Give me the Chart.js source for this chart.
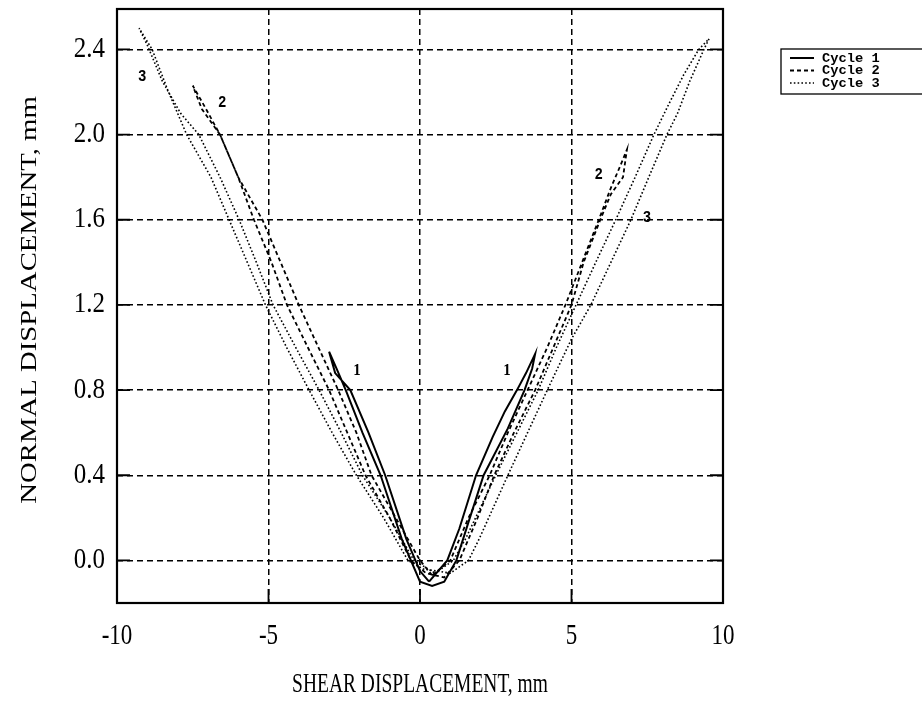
<!DOCTYPE html>
<html>
<head>
    <title>Shear vs normal displacement</title>
    <script src="https://cdn.jsdelivr.net/npm/chart.js"></script>
    <style>
        html, body { margin: 0; padding: 0; background: #fff; }
        #chart-container { width: 922px; height: 702px; }
    </style>
</head>
<body>
    <div id="chart-container">
        <canvas id="dispChart" width="922" height="702"></canvas>
    </div>

    <script>
        // Cycle 1 (solid)
        const cycle1X = [0.3, 0.9, 1.3, 1.85, 2.4, 2.8, 3.2, 3.5, 3.8,
            3.7, 3.45, 2.9, 2.1, 1.6, 1.2, 0.8, 0.4,
            0.0, -0.6, -1.3, -1.9, -2.45, -2.75, -3.0,
            -2.8, -2.3, -1.7, -1.15, -0.45, 0.0, 0.3];
        const cycle1Y = [-0.1, 0.0, 0.15, 0.4, 0.58, 0.7, 0.8, 0.88, 0.97,
            0.9, 0.8, 0.62, 0.4, 0.18, 0.0, -0.1, -0.12,
            -0.1, 0.1, 0.4, 0.6, 0.8, 0.9, 0.98,
            0.88, 0.8, 0.6, 0.4, 0.1, -0.05, -0.1];

        // Cycle 2 (dashed)
        const cycle2X = [0.4, 1.0, 1.6, 2.3, 2.9, 3.55, 4.2, 4.8, 5.35, 5.9, 6.3, 6.6, 6.83,
            6.7, 6.3, 5.95, 5.4, 5.0, 4.4, 3.8, 3.1, 2.45, 1.9, 1.3, 0.8,
            0.2, -0.3, -1.0, -1.8, -2.4, -3.0, -3.7, -4.39, -4.9, -5.48, -6.0, -6.6, -7.1, -7.5,
            -7.2, -6.6, -6.0, -5.2, -4.6, -4.0, -3.35, -2.7, -2.1, -1.6, -0.8, 0.0, 0.4];
        const cycle2Y = [-0.07, 0.0, 0.2, 0.4, 0.6, 0.8, 1.0, 1.2, 1.4, 1.6, 1.75, 1.85, 1.93,
            1.8, 1.72, 1.6, 1.4, 1.2, 1.0, 0.8, 0.6, 0.4, 0.2, 0.0, -0.08,
            -0.06, 0.0, 0.2, 0.4, 0.6, 0.8, 1.0, 1.2, 1.4, 1.6, 1.8, 2.0, 2.13, 2.23,
            2.12, 2.0, 1.8, 1.6, 1.4, 1.2, 1.0, 0.8, 0.6, 0.4, 0.2, 0.0, -0.07];

        // Cycle 3 (dotted)
        const cycle3X = [0.5, 1.1, 1.5, 2.5, 3.2, 3.9, 4.5, 5.15, 5.8, 6.46, 7.1, 7.72, 8.2, 8.7, 9.2, 9.54,
            9.37, 8.9, 8.5, 8.15, 7.55, 6.96, 6.3, 5.64, 5.0, 4.2, 3.55, 2.9, 1.95, 1.6, 1.0,
            0.1, -0.4, -1.2, -2.1, -2.9, -3.66, -4.4, -5.1, -5.7, -6.3, -6.9, -7.7, -8.3, -8.84, -9.27,
            -9.0, -8.5, -7.9, -7.3, -6.6, -5.97, -5.4, -4.85, -4.1, -3.33, -2.6, -1.9, -1.0, -0.2, 0.5];
        const cycle3Y = [-0.06, 0.0, 0.1, 0.4, 0.6, 0.8, 1.0, 1.2, 1.4, 1.6, 1.8, 2.0, 2.14, 2.28, 2.4, 2.45,
            2.4, 2.25, 2.1, 2.0, 1.8, 1.6, 1.4, 1.2, 1.04, 0.8, 0.6, 0.4, 0.1, 0.0, -0.06,
            -0.04, 0.0, 0.2, 0.4, 0.6, 0.8, 1.0, 1.2, 1.4, 1.6, 1.8, 2.0, 2.2, 2.4, 2.5,
            2.42, 2.25, 2.1, 2.0, 1.8, 1.6, 1.4, 1.2, 1.0, 0.8, 0.6, 0.4, 0.2, 0.0, -0.06];

        const seriesNames = ['Cycle 1', 'Cycle 2', 'Cycle 3'];

        const xTicks = [-10, -5, 0, 5, 10];
        const xTickLabels = ['-10', '-5', '0', '5', '10'];
        const yTicks = [0.0, 0.4, 0.8, 1.2, 1.6, 2.0, 2.4];
        const yTickLabels = ['0.0', '0.4', '0.8', '1.2', '1.6', '2.0', '2.4'];

        const xTitle = 'SHEAR DISPLACEMENT, mm';
        const yTitle = 'NORMAL DISPLACEMENT, mm';

        // numbers written next to the curve ends (data units)
        const markText = ['1', '1', '2', '2', '3', '3'];
        const markX = [-2.08, 2.87, -6.53, 5.9, -9.17, 7.49];
        const markY = [0.89, 0.89, 2.15, 1.81, 2.27, 1.61];

        function toPoints(xs, ys) {
            return xs.map((x, i) => ({ x: x, y: ys[i] }));
        }

        const serif = "'Liberation Serif', 'DejaVu Serif', serif";
        const mono = "'Liberation Mono', 'DejaVu Sans Mono', monospace";

        // the scanned figure is taller than wide, so text is drawn a bit stretched
        function stretchedText(ctx, text, x, y, font, sx, sy, align, angle) {
            ctx.save();
            ctx.translate(x, y);
            if (angle) ctx.rotate(angle);
            ctx.scale(sx, sy);
            ctx.font = font;
            ctx.textAlign = align;
            ctx.textBaseline = 'middle';
            ctx.fillText(text, 0, 0);
            ctx.restore();
        }

        // solid frame, inward tick marks, labels and legend
        const framePlugin = {
            id: 'frame',
            afterDraw(chart) {
                const { ctx, chartArea: a, scales } = chart;
                ctx.save();
                ctx.strokeStyle = '#000';
                ctx.fillStyle = '#000';
                ctx.lineWidth = 1.8;
                ctx.beginPath();
                yTicks.forEach(v => {
                    const py = scales.y.getPixelForValue(v);
                    ctx.moveTo(a.left, py); ctx.lineTo(a.left + 13, py);
                    ctx.moveTo(a.right, py); ctx.lineTo(a.right - 13, py);
                });
                xTicks.forEach(v => {
                    const px = scales.x.getPixelForValue(v);
                    ctx.moveTo(px, a.bottom); ctx.lineTo(px, a.bottom - 14);
                });
                ctx.stroke();
                ctx.lineWidth = 2.2;
                ctx.strokeRect(a.left, a.top, a.right - a.left, a.bottom - a.top);

                // tick labels
                yTicks.forEach((v, i) => {
                    stretchedText(ctx, yTickLabels[i], a.left - 12, scales.y.getPixelForValue(v),
                        '25px ' + serif, 1, 1.15, 'right', 0);
                });
                xTicks.forEach((v, i) => {
                    stretchedText(ctx, xTickLabels[i], scales.x.getPixelForValue(v), a.bottom + 33,
                        '23px ' + serif, 1, 1.25, 'center', 0);
                });

                // axis titles
                stretchedText(ctx, xTitle, (a.left + a.right) / 2, 685, '19.5px ' + serif, 1, 1.4, 'center', 0);
                stretchedText(ctx, yTitle, 30, 300, '23px ' + serif, 1.25, 1, 'center', -Math.PI / 2);

                // curve numbers
                markText.forEach((t, i) => {
                    const f = t === '1' ? 'bold 15px ' + serif : 'bold 14px ' + mono;
                    stretchedText(ctx, t, scales.x.getPixelForValue(markX[i]), scales.y.getPixelForValue(markY[i]),
                        f, 1, 1.15, 'center', 0);
                });

                // legend box
                const lx = 781, ly = 49;
                ctx.lineWidth = 1.3;
                ctx.strokeRect(lx, ly, 160, 45);
                chart.data.datasets.forEach((ds, i) => {
                    const ry = ly + 9 + i * 12.5;
                    ctx.lineWidth = ds.borderWidth;
                    ctx.setLineDash(ds.borderDash || []);
                    ctx.beginPath();
                    ctx.moveTo(lx + 9, ry); ctx.lineTo(lx + 33, ry);
                    ctx.stroke();
                    ctx.setLineDash([]);
                    stretchedText(ctx, ds.label, lx + 41, ry + 0.5, 'bold 12.5px ' + mono, 1.1, 1.05, 'left', 0);
                });
                ctx.restore();
            }
        };

        const ctx = document.getElementById('dispChart').getContext('2d');
        new Chart(ctx, {
            type: 'scatter',
            data: {
                datasets: [
                    { label: seriesNames[0], data: toPoints(cycle1X, cycle1Y), borderDash: [], borderWidth: 2 },
                    { label: seriesNames[1], data: toPoints(cycle2X, cycle2Y), borderDash: [4, 3], borderWidth: 1.8 },
                    { label: seriesNames[2], data: toPoints(cycle3X, cycle3Y), borderDash: [1.6, 2.2], borderWidth: 1.6 }
                ].map(ds => Object.assign(ds, {
                    showLine: true,
                    borderColor: '#000',
                    backgroundColor: '#000',
                    pointRadius: 0,
                    tension: 0,
                    fill: false
                }))
            },
            options: {
                responsive: false,
                animation: false,
                layout: { autoPadding: false, padding: { left: 0, top: 9, right: 199, bottom: 0 } },
                plugins: {
                    legend: { display: false },
                    tooltip: { enabled: false }
                },
                scales: {
                    x: {
                        type: 'linear',
                        min: -10,
                        max: 10,
                        afterFit: s => { s.height = 99; },
                        afterBuildTicks: s => { s.ticks = xTicks.map(v => ({ value: v })); },
                        ticks: { display: false },
                        grid: { color: '#000', lineWidth: 1.5, drawTicks: false },
                        border: { display: false, dash: [6, 4] },
                        title: { display: false, text: xTitle }
                    },
                    y: {
                        type: 'linear',
                        min: -0.2,
                        max: 2.59,
                        afterFit: s => { s.width = 117; },
                        afterBuildTicks: s => { s.ticks = yTicks.map(v => ({ value: v })); },
                        ticks: { display: false },
                        grid: { color: '#000', lineWidth: 1.5, drawTicks: false },
                        border: { display: false, dash: [6, 4] },
                        title: { display: false, text: yTitle }
                    }
                }
            },
            plugins: [framePlugin]
        });
    </script>
</body>
</html>
